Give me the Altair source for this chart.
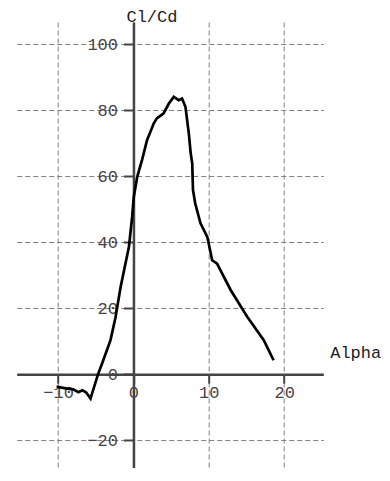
import altair as alt
import pandas as pd

# Data
alpha = [-10.2, -9.0, -8.0, -7.3, -6.8, -6.3, -5.7, -4.7, -4.2, -3.05, -2.4, -1.7,
         -0.6, -0.17, 0.04, 0.5, 1.15, 1.8, 2.7, 3.1, 4.0, 4.7, 5.35, 6.0, 6.45,
         6.9, 7.35, 7.6, 7.8, 7.9, 8.2, 8.9, 9.8, 10.45, 11.1, 12.9, 15.1, 17.3, 18.6]
clcd = [-3.8, -4.3, -4.6, -5.5, -4.9, -5.5, -7.4, 0.0, 3.0, 10.3, 17.0, 26.5,
        38.6, 47.7, 53.7, 59.8, 65.0, 70.9, 76.0, 77.5, 79.0, 82.0, 84.0, 83.0, 83.5,
        81.0, 72.9, 66.9, 63.8, 55.8, 51.7, 45.7, 41.6, 34.5, 33.5, 25.5, 17.4, 10.3, 4.2]
x_ticks = [-10, 0, 10, 20]
y_ticks = [-20, 0, 20, 40, 60, 80, 100]
x_title = "Alpha"
y_title = "Cl/Cd"

df = pd.DataFrame({"alpha": alpha, "clcd": clcd, "i": list(range(len(alpha)))})

X_DOM = [-15.5, 25.2]
Y_DOM = [-28.5, 106.7]
PX_X = 7.533
PX_Y = 3.3
W = round((X_DOM[1] - X_DOM[0]) * PX_X, 1)
H = round((Y_DOM[1] - Y_DOM[0]) * PX_Y, 1)
y_axis_off = -(0 - X_DOM[0]) * PX_X
x_axis_off = -(0 - Y_DOM[0]) * PX_Y
PAD_L = 8.7
PAD_T = 14
PAD_R = 374 - PAD_L - W

FONT = "Liberation Mono"
AX = "#444444"
LAB = "#4a4048"

x_axis = alt.Axis(
    values=x_ticks, offset=x_axis_off, grid=True, gridDash=[5, 3], gridColor="#808080",
    gridWidth=1, domainColor=AX, domainWidth=2.5, tickColor=AX, tickWidth=2, tickSize=9,
    labelFont=FONT, labelFontSize=17, labelColor=LAB, labelPadding=1, labelOverlap=False,
    labelFlush=False, title=x_title, titleFont=FONT, titleFontSize=17, titleFontWeight="normal",
    titleColor="#222222", titleAngle=0, titleX=313, titleY=-22, titleAlign="left",
    titleBaseline="middle",
)
y_axis = alt.Axis(
    values=y_ticks, offset=y_axis_off, grid=True, gridDash=[5, 3], gridColor="#808080",
    gridWidth=1, domainColor=AX, domainWidth=2.5, tickColor=AX, tickWidth=2, tickSize=10,
    labelFont=FONT, labelFontSize=17, labelColor=LAB, labelPadding=6, labelOverlap=False,
    labelFlush=False, title=y_title, titleFont=FONT, titleFontSize=17, titleFontWeight="normal",
    titleColor="#222222", titleAngle=0, titleX=18, titleY=-PAD_T + 0.5, titleAlign="center",
    titleBaseline="top",
)

chart = alt.Chart(df).mark_line(color="black", strokeWidth=2.7).encode(
    x=alt.X("alpha:Q", scale=alt.Scale(domain=X_DOM, nice=False, zero=False), axis=x_axis),
    y=alt.Y("clcd:Q", scale=alt.Scale(domain=Y_DOM, nice=False, zero=False), axis=y_axis),
    order="i:Q",
).properties(
    width=W, height=H,
    autosize=alt.AutoSizeParams(type="none"),
    padding={"left": PAD_L, "top": PAD_T, "right": PAD_R, "bottom": 0},
    background="white",
).configure_view(stroke=None)

chart.save("out.html", embed_options={"renderer": "svg", "actions": False})
